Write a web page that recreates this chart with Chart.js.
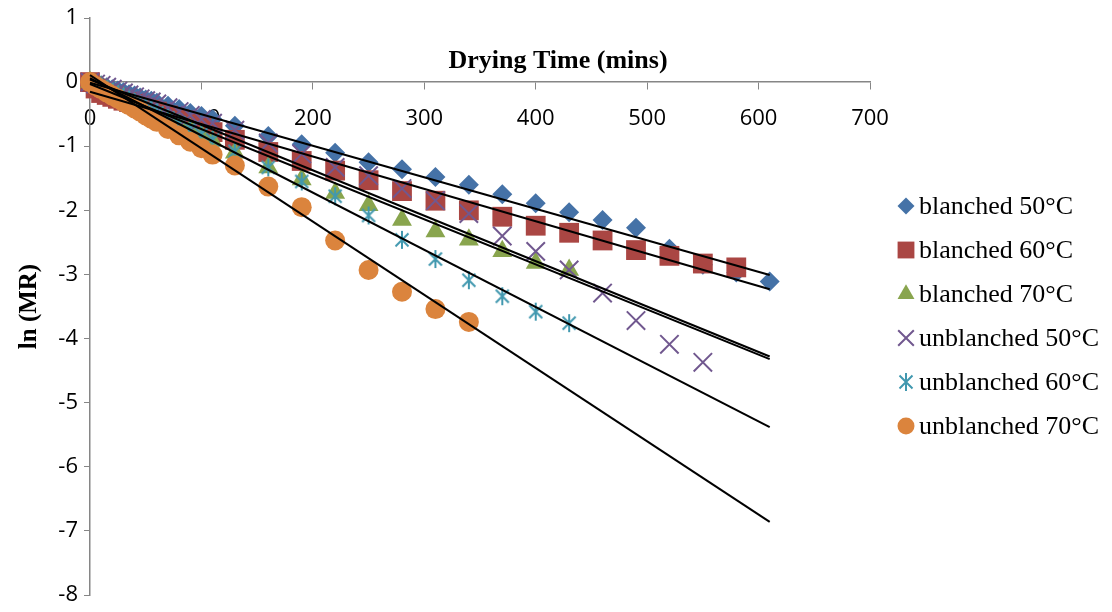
<!DOCTYPE html>
<html lang="en">
<head>
    <meta charset="UTF-8">
    <title>ln(MR) vs drying time</title>
    <script src="https://cdn.jsdelivr.net/npm/chart.js"></script>
    <style>
        html, body { margin: 0; padding: 0; background: #fff; }
        #wrap { width: 1112px; height: 612px; }
    </style>
</head>
<body>
    <div id="wrap"><canvas id="chart"></canvas></div>

    <script>
        // drying time (mins), shared by all series
        const times = [0, 5, 10, 15, 20, 25, 30, 35, 40, 45, 50, 55, 60, 70, 80, 90, 100, 110,
                       130, 160, 190, 220, 250, 280, 310, 340, 370, 400, 430, 460, 490, 520, 550, 580, 610];

        // ln(MR) readings, each series stops where its drying ended
        const blanched50 = [0, -0.03, -0.05, -0.08, -0.11, -0.13, -0.16, -0.19, -0.21, -0.24, -0.27, -0.29, -0.32, -0.37, -0.42, -0.48, -0.53, -0.58,
                            -0.68, -0.84, -0.97, -1.10, -1.25, -1.36, -1.48, -1.60, -1.75, -1.89, -2.03, -2.15, -2.27, -2.60, -2.85, -2.97, -3.11];
        const blanched60 = [0, -0.10, -0.17, -0.20, -0.23, -0.26, -0.29, -0.31, -0.34, -0.37, -0.40, -0.43, -0.46, -0.52, -0.58, -0.65, -0.71, -0.78,
                            -0.90, -1.09, -1.23, -1.38, -1.53, -1.70, -1.85, -2.00, -2.10, -2.24, -2.35, -2.47, -2.62, -2.71, -2.83, -2.89];
        const blanched70 = [0, -0.04, -0.08, -0.12, -0.17, -0.21, -0.25, -0.29, -0.33, -0.37, -0.41, -0.45, -0.49, -0.57, -0.66, -0.74, -0.83, -0.92,
                            -1.10, -1.33, -1.52, -1.73, -1.92, -2.15, -2.33, -2.46, -2.64, -2.82, -2.93];
        const unblanched50 = [0, -0.03, -0.05, -0.08, -0.11, -0.14, -0.17, -0.20, -0.23, -0.26, -0.29, -0.31, -0.34, -0.40, -0.46, -0.52, -0.58, -0.64,
                              -0.75, -0.95, -1.12, -1.33, -1.46, -1.66, -1.85, -2.05, -2.40, -2.64, -2.93, -3.29, -3.72, -4.09, -4.37];
        const unblanched60 = [0, -0.04, -0.08, -0.12, -0.16, -0.20, -0.24, -0.28, -0.32, -0.36, -0.40, -0.44, -0.48, -0.56, -0.64, -0.72, -0.81, -0.90,
                              -1.08, -1.33, -1.55, -1.78, -2.08, -2.46, -2.76, -3.09, -3.34, -3.58, -3.76];
        const unblanched70 = [0, -0.06, -0.11, -0.16, -0.21, -0.26, -0.31, -0.36, -0.41, -0.46, -0.52, -0.57, -0.62, -0.73, -0.83, -0.93, -1.03, -1.13,
                              -1.30, -1.63, -1.95, -2.47, -2.93, -3.27, -3.54, -3.74];

        const seriesNames = ['blanched 50°C', 'blanched 60°C', 'blanched 70°C',
                             'unblanched 50°C', 'unblanched 60°C', 'unblanched 70°C'];
        const seriesValues = [blanched50, blanched60, blanched70, unblanched50, unblanched60, unblanched70];

        // linear trendlines, value at t = 0 and at t = 610
        const trendTimes = [0, 610];
        const trendStart = [-0.01, -0.15, 0.04, -0.03, 0.06, 0.11];
        const trendEnd = [-3.01, -3.23, -4.28, -4.32, -5.38, -6.86];

        const xTicks = { min: 0, max: 700, step: 100 };
        const yTicks = { min: -8, max: 1, step: 1 };

        // asterisk marker (vertical bar + x), like the Excel "star"
        function makeStar(color) {
            const c = document.createElement('canvas');
            c.width = 22; c.height = 22;
            const g = c.getContext('2d');
            g.strokeStyle = color;
            g.lineWidth = 2;
            g.beginPath();
            g.moveTo(11, 2); g.lineTo(11, 20);
            g.moveTo(4.5, 4.5); g.lineTo(17.5, 17.5);
            g.moveTo(17.5, 4.5); g.lineTo(4.5, 17.5);
            g.stroke();
            return c;
        }

        const colors = ['#4572A7', '#AA4643', '#89A54E', '#71588F', '#4198AF', '#DB843D'];
        const markers = [
            { pointStyle: 'rectRot', radius: 10, fill: true },
            { pointStyle: 'rect', radius: 14, fill: true },
            { pointStyle: 'triangle', radius: 11.5, fill: true },
            { pointStyle: 'crossRot', radius: 13, fill: false },
            { pointStyle: makeStar('#4198AF'), radius: 11, fill: false },
            { pointStyle: 'circle', radius: 10, fill: true }
        ];

        const datasets = [];
        seriesValues.forEach((vals, i) => {
            datasets.push({
                label: seriesNames[i],
                data: vals.map((v, j) => ({ x: times[j], y: v })),
                showLine: false,
                pointStyle: markers[i].pointStyle,
                pointRadius: markers[i].radius,
                pointHoverRadius: markers[i].radius,
                pointBackgroundColor: colors[i],
                pointBorderColor: colors[i],
                pointBorderWidth: markers[i].fill ? 0 : 2,
                backgroundColor: colors[i],
                borderColor: colors[i],
                clip: false,
                order: 6 - i + 1
            });
        });
        seriesValues.forEach((vals, i) => {
            datasets.push({
                label: 'trend ' + seriesNames[i],
                data: [{ x: trendTimes[0], y: trendStart[i] }, { x: trendTimes[1], y: trendEnd[i] }],
                showLine: true,
                borderColor: '#000',
                borderWidth: 2,
                pointRadius: 0,
                pointHoverRadius: 0,
                clip: false,
                order: 0
            });
        });

        // x axis title sits just above the axis line
        const axisTitlePlugin = {
            id: 'axisTitle',
            afterDraw(chart) {
                const ctx = chart.ctx;
                const area = chart.chartArea;
                const y0 = chart.scales.y.getPixelForValue(0);
                ctx.save();
                ctx.font = 'bold 26px "Liberation Serif", "Times New Roman", serif';
                ctx.fillStyle = '#000';
                ctx.textAlign = 'center';
                ctx.textBaseline = 'middle';
                ctx.fillText('Drying Time (mins)', area.left + (area.right - area.left) * 0.6, y0 - 21);
                ctx.restore();
            }
        };

        // legend on the right, markers only (trendlines left out)
        const sideLegendPlugin = {
            id: 'sideLegend',
            afterDraw(chart) {
                const ctx = chart.ctx;
                const area = chart.chartArea;
                const mx = area.right + 36;
                const firstRow = 206;
                const rowGap = 44;
                ctx.save();
                seriesNames.forEach((name, i) => {
                    const y = firstRow + i * rowGap;
                    ctx.fillStyle = colors[i];
                    ctx.strokeStyle = colors[i];
                    ctx.lineWidth = 2;
                    Chart.helpers.drawPoint(ctx, {
                        pointStyle: markers[i].pointStyle,
                        radius: markers[i].radius * 0.85,
                        rotation: 0,
                        borderWidth: markers[i].fill ? 0 : 2
                    }, mx, y);
                    ctx.fillStyle = '#000';
                    ctx.font = '26px "Liberation Serif", "Times New Roman", serif';
                    ctx.textAlign = 'left';
                    ctx.textBaseline = 'middle';
                    ctx.fillText(name, mx + 13, y + 1);
                });
                ctx.restore();
            }
        };

        const tickFont = { family: '"Open Sans", "Liberation Sans", sans-serif', size: 22, lineHeight: 1 };

        new Chart(document.getElementById('chart').getContext('2d'), {
            type: 'scatter',
            data: { datasets: datasets },
            options: {
                responsive: true,
                maintainAspectRatio: false,
                animation: false,
                events: [],
                layout: { padding: { top: 18, right: 242, bottom: 12, left: 0 } },
                plugins: {
                    legend: { display: false },
                    tooltip: { enabled: false }
                },
                scales: {
                    x: {
                        type: 'linear',
                        position: { y: 0 },
                        min: xTicks.min,
                        max: xTicks.max,
                        ticks: { stepSize: xTicks.step, color: '#000', font: tickFont, padding: 19, maxRotation: 0 },
                        grid: { display: true, drawOnChartArea: false, drawTicks: true, tickLength: 7, color: '#868686' },
                        border: { display: true, color: '#868686', width: 1.5 }
                    },
                    y: {
                        type: 'linear',
                        position: 'left',
                        min: yTicks.min,
                        max: yTicks.max,
                        afterFit: (scale) => { scale.width = 90; },
                        ticks: { stepSize: yTicks.step, color: '#000', font: tickFont, padding: 6 },
                        grid: { display: true, drawOnChartArea: false, drawTicks: true, tickLength: 6, color: '#868686' },
                        border: { display: true, color: '#868686', width: 1.5 },
                        title: {
                            display: true,
                            text: 'ln (MR)',
                            color: '#000',
                            font: { family: '"Liberation Serif", "Times New Roman", serif', size: 25, weight: 'bold' },
                            padding: { top: 15, bottom: 0 }
                        }
                    }
                }
            },
            plugins: [axisTitlePlugin, sideLegendPlugin]
        });
    </script>
</body>
</html>
